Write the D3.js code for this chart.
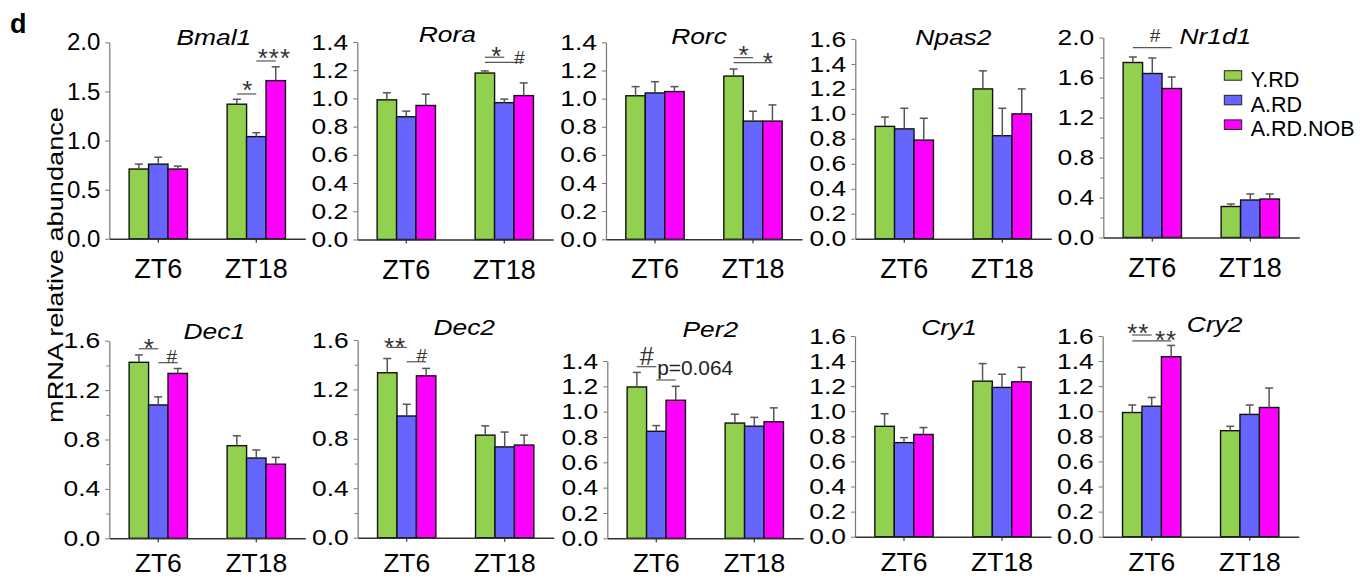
<!DOCTYPE html>
<html>
<head>
<meta charset="utf-8">
<script src="https://cdn.jsdelivr.net/npm/d3@7"></script>
<style>
  body { margin: 0; background: #fff; }
  svg { display: block; font-family: "Liberation Sans", Arial, sans-serif; }
</style>
</head>
<body>
<svg id="fig" width="1368" height="578"></svg>
<script>
// ---- data ----
const genes = ['Bmal1', 'Rora', 'Rorc', 'Npas2', 'Nr1d1', 'Dec1', 'Dec2', 'Per2', 'Cry1', 'Cry2'];
const timepoints = ['ZT6', 'ZT18'];
const groups = ['Y.RD', 'A.RD', 'A.RD.NOB'];
const groupColors = ['#92d050', '#6666ff', '#ff00ff'];

// one entry per gene: [ZT6, ZT18]
const yrdMean = [[0.71, 1.37], [0.99, 1.18], [1.02, 1.16], [0.90, 1.20], [1.75, 0.31], [1.425, 0.75], [1.335, 0.83], [1.195, 0.91], [0.88, 1.24], [0.99, 0.845]];
const yrdSem  = [[0.05, 0.05], [0.05, 0.015], [0.065, 0.05], [0.075, 0.145], [0.055, 0.025], [0.06, 0.08], [0.115, 0.075], [0.115, 0.07], [0.10, 0.14], [0.06, 0.035]];
const ardMean = [[0.76, 1.04], [0.87, 0.97], [1.04, 0.84], [0.88, 0.825], [1.64, 0.375], [1.08, 0.65], [0.985, 0.735], [0.845, 0.885], [0.75, 1.19], [1.04, 0.975]];
const ardSem  = [[0.07, 0.04], [0.04, 0.025], [0.08, 0.07], [0.165, 0.22], [0.155, 0.06], [0.065, 0.065], [0.095, 0.12], [0.045, 0.07], [0.04, 0.105], [0.07, 0.075]];
const nobMean = [[0.71, 1.61], [0.95, 1.02], [1.05, 0.84], [0.79, 1.00], [1.49, 0.385], [1.335, 0.60], [1.31, 0.75], [1.09, 0.92], [0.815, 1.235], [1.435, 1.03]];
const nobSem  = [[0.03, 0.14], [0.08, 0.09], [0.035, 0.115], [0.175, 0.20], [0.115, 0.05], [0.04, 0.055], [0.06, 0.08], [0.11, 0.11], [0.055, 0.115], [0.09, 0.155]];

const yMax  = [2.0, 1.4, 1.4, 1.6, 2.0, 1.6, 1.6, 1.4, 1.6, 1.6];
const yStep = [0.5, 0.2, 0.2, 0.2, 0.4, 0.4, 0.4, 0.2, 0.2, 0.2];

// significance marks: bracket between two bars (level in data units), label centre
const sigMarks = [
  {gene: 0, tp: 1, from: 0, to: 1, at: 1.474, text: '*',   tx: 0.56, ty: 1.572},
  {gene: 0, tp: 1, from: 1, to: 2, at: 1.81,  text: '***', tx: 1.93, ty: 1.904},
  {gene: 1, tp: 1, from: 0, to: 1, at: 1.292, text: '*',   tx: 0.61, ty: 1.343},
  {gene: 1, tp: 1, from: 0, to: 2, at: 1.256, text: '#',   tx: 1.78, ty: 1.294},
  {gene: 2, tp: 1, from: 0, to: 1, at: 1.291, text: '*',   tx: 0.54, ty: 1.351},
  {gene: 2, tp: 1, from: 0, to: 2, at: 1.255, text: '*',   tx: 1.79, ty: 1.301},
  {gene: 4, tp: 0, from: 0, to: 2, at: 1.898, text: '#',   tx: 1.14, ty: 2.017},
  {gene: 5, tp: 0, from: 0, to: 1, at: 1.535, text: '*',   tx: 0.54, ty: 1.585},
  {gene: 5, tp: 0, from: 1, to: 2, at: 1.422, text: '#',   tx: 1.70, ty: 1.470},
  {gene: 6, tp: 0, from: 0, to: 1, at: 1.540, text: '**',  tx: 0.40, ty: 1.593},
  {gene: 6, tp: 0, from: 1, to: 2, at: 1.424, text: '#',   tx: 1.78, ty: 1.478},
  {gene: 7, tp: 0, from: 0, to: 1, at: 1.355, text: '#',   tx: 0.51, ty: 1.438},
  {gene: 7, tp: 0, from: 1, to: 2, at: 1.250, text: 'p=0.064', tx: 3.0, ty: 1.349},
  {gene: 9, tp: 0, from: 0, to: 1, at: 1.608, text: '**',  tx: 0.31, ty: 1.668},
  {gene: 9, tp: 0, from: 0, to: 2, at: 1.561, text: '**',  tx: 1.74, ty: 1.615}
];

// ---- layout ----
const panelX    = [109.3, 357.3, 606, 855.3, 1103.3, 109.3, 357.7, 607.3, 855, 1102.7];
const panelTop  = [42.3, 42, 42.3, 39, 37.5, 340.7, 340, 361, 336, 336];
const panelBase = [238.8, 239.5, 239.3, 238.7, 237.5, 538.3, 537.7, 538.3, 536.7, 536.7];
const titleDx   = [104.5, 90, 93, 98, 112, 105, 106.5, 103, 94, 112];
const titleY    = [45, 42, 43.5, 45, 43.5, 338.5, 335, 336.5, 335, 332];
const axisW = 196;

const svg = d3.select('#fig');
const means = [yrdMean, ardMean, nobMean];
const sems = [yrdSem, ardSem, nobSem];

genes.forEach(function (gene, gi) {
  let g = svg.append('g').attr('transform', 'translate(' + panelX[gi] + ',0)');
  let sx = gi === 0 ? 1.0 : 1.2;       // tick label width squeeze in the source
  let fs = gi === 0 ? 24 : 22;

  let y = d3.scaleLinear().domain([0, yMax[gi]]).range([panelBase[gi], panelTop[gi]]);
  let x = d3.scaleBand().domain(timepoints).range([0, axisW]).paddingInner(0.405).paddingOuter(0.2025);
  let xs = d3.scaleBand().domain([0, 1, 2]).range([0, x.bandwidth()]);

  // y axis
  let ticks = d3.range(0, yMax[gi] + 1e-6, yStep[gi]);
  let yAxis = g.append('g')
    .call(d3.axisLeft(y).tickValues(ticks).tickSize(4).tickSizeOuter(0).tickPadding(5).tickFormat(d3.format('.1f')));
  yAxis.select('.domain').attr('stroke', '#777').attr('stroke-width', 1.2);
  yAxis.selectAll('.tick line').attr('stroke', '#777');
  yAxis.selectAll('.tick text')
    .attr('x', 0)
    .attr('transform', 'translate(-9,0) scale(' + sx + ',1)')
    .attr('fill', '#000')
    .style('font-size', fs + 'px');
  if (yStep[gi] === 0.4) {
    let minor = d3.range(0.2, yMax[gi], 0.4);
    let m = g.append('g').call(d3.axisLeft(y).tickValues(minor).tickSize(3).tickFormat(''));
    m.select('.domain').remove();
    m.selectAll('.tick line').attr('stroke', '#777');
  }

  // bars
  groups.forEach(function (grp, si) {
    timepoints.forEach(function (tp, ti) {
      let v = means[si][gi][ti];
      let e = sems[si][gi][ti];
      let bx = x(tp) + xs(si);
      let cx = bx + xs.bandwidth() / 2;
      g.append('rect')
        .attr('x', bx).attr('y', y(v))
        .attr('width', xs.bandwidth()).attr('height', y(0) - y(v))
        .attr('fill', groupColors[si])
        .attr('stroke', '#111').attr('stroke-width', 1.4);
      g.append('line')
        .attr('x1', cx).attr('x2', cx).attr('y1', y(v)).attr('y2', y(v + e))
        .attr('stroke', '#555').attr('stroke-width', 1.5);
      g.append('line')
        .attr('x1', cx - 4).attr('x2', cx + 4).attr('y1', y(v + e)).attr('y2', y(v + e))
        .attr('stroke', '#555').attr('stroke-width', 1.5);
    });
  });

  // x axis
  let xAxis = g.append('g').attr('transform', 'translate(0,' + y(0) + ')')
    .call(d3.axisBottom(x).tickSize(4).tickSizeOuter(0));
  xAxis.select('.domain').attr('stroke', '#333').attr('stroke-width', 1.6);
  xAxis.selectAll('.tick line').attr('stroke', '#333').attr('stroke-width', 1.2);
  xAxis.selectAll('.tick text')
    .attr('y', gi < 5 ? 39 : 34)
    .attr('dy', null)
    .attr('fill', '#000')
    .style('font-size', gi < 5 ? '27px' : '26.5px');

  // title
  g.append('text')
    .attr('transform', 'translate(' + titleDx[gi] + ',' + titleY[gi] + ') scale(1.2,1)')
    .attr('text-anchor', 'middle')
    .style('font-size', '22px')
    .style('font-style', 'italic')
    .text(gene);

  // significance marks
  sigMarks.filter(d => d.gene === gi).forEach(function (d) {
    let tp = timepoints[d.tp];
    let c = s => x(tp) + xs(0) + xs.bandwidth() * (s + 0.5);
    g.append('line')
      .attr('x1', c(d.from)).attr('x2', c(d.to))
      .attr('y1', y(d.at)).attr('y2', y(d.at))
      .attr('stroke', '#555').attr('stroke-width', 1.2);
    let lfs, off;
    if (d.text.indexOf('*') === 0) { lfs = 26; off = 0.57 * lfs; }
    else if (d.text === '#') { lfs = gi === 7 ? 25 : 19; off = 0.35 * lfs; }
    else { lfs = 20; off = 0.36 * lfs; }
    let t = g.append('text')
      .attr('x', c(d.tx)).attr('y', y(d.ty) + off)
      .attr('text-anchor', 'middle')
      .attr('fill', '#333')
      .style('font-size', lfs + 'px')
      .text(d.text);
    if (d.text.indexOf('*') === 0) t.style('letter-spacing', '1px');
    if (d.text.length > 3) t.attr('textLength', 76).attr('lengthAdjust', 'spacingAndGlyphs').attr('fill', '#222');
  });
});

// legend (in the Nr1d1 panel)
let legend = svg.append('g').attr('transform', 'translate(1224.3,70.7)');
groups.forEach(function (grp, i) {
  legend.append('rect')
    .attr('x', 0).attr('y', i * 24.6)
    .attr('width', 17.4).attr('height', 9.5)
    .attr('fill', groupColors[i]).attr('stroke', '#222').attr('stroke-width', 1);
  legend.append('text')
    .attr('x', 26.4).attr('y', i * 24.6 + 16.6)
    .style('font-size', '21.5px')
    .text(grp);
});

// y label and panel letter
svg.append('text')
  .attr('transform', 'translate(63,265) rotate(-90)')
  .attr('text-anchor', 'middle')
  .attr('textLength', 316).attr('lengthAdjust', 'spacingAndGlyphs')
  .style('font-size', '22px')
  .text('mRNA relative abundance');

svg.append('text')
  .attr('x', 10).attr('y', 33)
  .style('font-size', '27px').style('font-weight', 'bold')
  .text('d');
</script>
</body>
</html>
